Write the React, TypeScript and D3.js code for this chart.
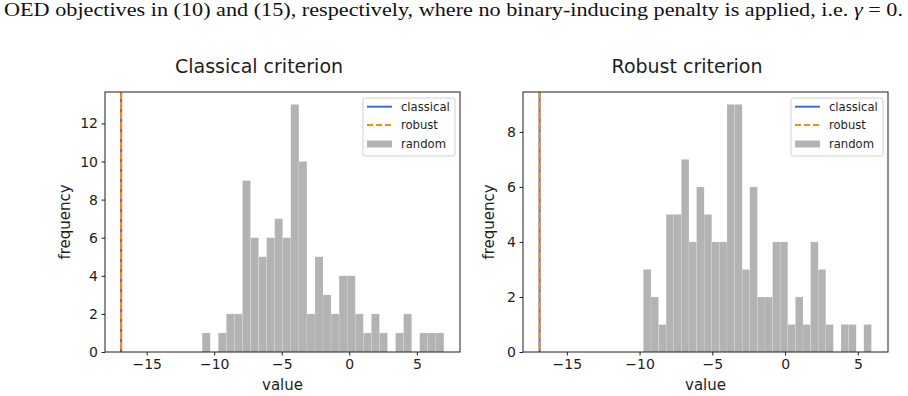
import React, { useEffect, useRef } from "react";
import * as d3 from "d3";

const width = 908;
const height = 396;

const caption = "OED objectives in (10) and (15), respectively, where no binary-inducing penalty is applied, i.e. ";

// bin counts of the 100 random designs, 30 equal bins over [min, max]
const classicalCounts = [1, 0, 1, 2, 2, 9, 6, 5, 6, 7, 6, 13, 10, 2, 5, 3, 2, 4, 4, 2, 1, 2, 1, 0, 1, 2, 0, 1, 1, 1];
const classicalRange = [-10.89, 7.0];
const robustCounts = [3, 2, 1, 5, 5, 7, 4, 6, 5, 4, 4, 9, 9, 3, 6, 2, 2, 4, 4, 1, 2, 1, 4, 3, 1, 0, 1, 1, 0, 1];
const robustRange = [-9.74, 5.93];

// objective value reached by the optimised designs
const classicalOptLeft = -16.89;
const robustOptLeft = -16.89;
const classicalOptRight = -16.87;
const robustOptRight = -16.87;

const xTicks = [-15, -10, -5, 0, 5];
const leftYTicks = [0, 2, 4, 6, 8, 10, 12];
const rightYTicks = [0, 2, 4, 6, 8];
const legendLabels = ["classical", "robust", "random"];
const titles = ["Classical criterion", "Robust criterion"];

const top = 92;
const bottom = 352;
const font = "DejaVu Sans, sans-serif";
const ink = "#1e1e1e";
const blue = "#4169e1";
const orange = "#ff8c00";
const barFill = "#b3b3b3";

type Panel = {
    left: number;
    right: number;
    titleX: number;
    ylabelX: number;
    title: string;
    counts: number[];
    range: number[];
    classical: number;
    robust: number;
    yTicks: number[];
};

const panels: Panel[] = [
    {
        left: 105, right: 460, titleX: 259, ylabelX: 70, title: titles[0],
        counts: classicalCounts, range: classicalRange,
        classical: classicalOptLeft, robust: robustOptLeft, yTicks: leftYTicks,
    },
    {
        left: 523, right: 888, titleX: 687, ylabelX: 494, title: titles[1],
        counts: robustCounts, range: robustRange,
        classical: classicalOptRight, robust: robustOptRight, yTicks: rightYTicks,
    },
];

const drawPanel = (svg: any, p: Panel) => {
    const g = svg.append("g");
    const n = p.counts.length;
    const step = (p.range[1] - p.range[0]) / n;
    const edges = d3.range(n + 1).map((i) => p.range[0] + i * step);

    // matplotlib-style 5% margins around the data
    const lo = Math.min(p.classical, p.robust, p.range[0]);
    const hi = Math.max(p.classical, p.robust, p.range[1]);
    const pad = (hi - lo) * 0.05;
    const x = d3.scaleLinear([lo - pad, hi + pad], [p.left, p.right]);
    const y = d3.scaleLinear([0, (d3.max(p.counts) as number) * 1.05], [bottom, top]);

    g.append("g")
        .selectAll("rect")
        .data(p.counts.map((c, i) => ({ c, x0: edges[i], x1: edges[i + 1] })).filter((d) => d.c > 0))
        .join("rect")
        .attr("x", (d: any) => x(d.x0))
        .attr("width", (d: any) => x(d.x1) - x(d.x0))
        .attr("y", (d: any) => y(d.c))
        .attr("height", (d: any) => y(0) - y(d.c))
        .attr("fill", barFill)
        .attr("stroke", "#fff")
        .attr("stroke-opacity", 0.25)
        .attr("stroke-width", 0.5);

    g.append("line")
        .attr("x1", x(p.classical)).attr("x2", x(p.classical))
        .attr("y1", top).attr("y2", bottom)
        .attr("stroke", blue).attr("stroke-width", 2);
    g.append("line")
        .attr("x1", x(p.robust)).attr("x2", x(p.robust))
        .attr("y1", top).attr("y2", bottom)
        .attr("stroke", orange).attr("stroke-width", 2)
        .attr("stroke-dasharray", "7,3");

    const xAxis = d3.axisBottom(x).tickValues(xTicks).tickSize(3.5).tickPadding(3.5);
    const yAxis = d3.axisLeft(y).tickValues(p.yTicks).tickSize(3.5).tickPadding(3.5);

    const styleAxis = (a: any) => {
        a.select(".domain").remove();
        a.selectAll("line").attr("stroke", ink);
        a.selectAll("text").attr("fill", ink).attr("font-size", 14).attr("font-family", font);
    };

    g.append("g").attr("transform", `translate(0, ${bottom})`).call(xAxis).call(styleAxis);
    g.append("g").attr("transform", `translate(${p.left}, 0)`).call(yAxis).call(styleAxis);

    g.append("rect")
        .attr("x", p.left).attr("y", top)
        .attr("width", p.right - p.left).attr("height", bottom - top)
        .attr("fill", "none").attr("stroke", ink).attr("stroke-width", 1);

    g.append("text")
        .attr("x", p.titleX).attr("y", 73)
        .attr("text-anchor", "middle")
        .attr("font-family", font).attr("font-size", 19).attr("fill", ink)
        .text(p.title);

    g.append("text")
        .attr("x", (p.left + p.right) / 2).attr("y", 390)
        .attr("text-anchor", "middle")
        .attr("font-family", font).attr("font-size", 15).attr("fill", ink)
        .text("value");

    g.append("text")
        .attr("transform", `translate(${p.ylabelX}, ${(top + bottom) / 2}) rotate(-90)`)
        .attr("text-anchor", "middle")
        .attr("font-family", font).attr("font-size", 15).attr("fill", ink)
        .text("frequency");

    // legend, upper right
    const lx = p.right - 5 - 92;
    const ly = top + 6;
    const leg = g.append("g").attr("transform", `translate(${lx}, ${ly})`);
    leg.append("rect")
        .attr("width", 92).attr("height", 58).attr("rx", 2.5)
        .attr("fill", "#fff").attr("fill-opacity", 0.8)
        .attr("stroke", "#d0d0d0").attr("stroke-width", 1);
    const rows = [8.7, 27, 46];
    leg.append("line")
        .attr("x1", 4).attr("x2", 29).attr("y1", rows[0]).attr("y2", rows[0])
        .attr("stroke", blue).attr("stroke-width", 2);
    leg.append("line")
        .attr("x1", 4).attr("x2", 29).attr("y1", rows[1]).attr("y2", rows[1])
        .attr("stroke", orange).attr("stroke-width", 2)
        .attr("stroke-dasharray", "6,3");
    leg.append("rect")
        .attr("x", 4).attr("y", rows[2] - 3.5).attr("width", 25).attr("height", 7)
        .attr("fill", barFill);
    leg.selectAll("text.lab")
        .data(legendLabels)
        .join("text")
        .attr("class", "lab")
        .attr("x", 38)
        .attr("y", (_: any, i: number) => rows[i])
        .attr("dy", "0.35em")
        .attr("font-family", font).attr("font-size", 11.6).attr("fill", ink)
        .text((d: string) => d);
};

const App = () => {
    const ref = useRef<SVGSVGElement>(null);

    useEffect(() => {
        const svg = d3.select(ref.current);
        svg.selectAll("*").remove();

        svg.append("rect").attr("width", width).attr("height", height).attr("fill", "#fff");

        const cap = svg.append("text")
            .attr("x", 4).attr("y", 16)
            .attr("font-family", "Liberation Serif, serif")
            .attr("font-size", 18)
            .attr("fill", "#111")
            .attr("textLength", 899)
            .attr("lengthAdjust", "spacingAndGlyphs");
        cap.append("tspan").text(caption);
        cap.append("tspan").attr("font-style", "italic").text("γ");
        cap.append("tspan").text(" = 0.");

        panels.forEach((p) => drawPanel(svg, p));
    }, []);

    return (
        <svg
            ref={ref}
            width={width}
            height={height}
            viewBox={`0 0 ${width} ${height}`}
            style={{ position: "absolute", left: 0, top: 0, display: "block" }}
        />
    );
};

export default App;
